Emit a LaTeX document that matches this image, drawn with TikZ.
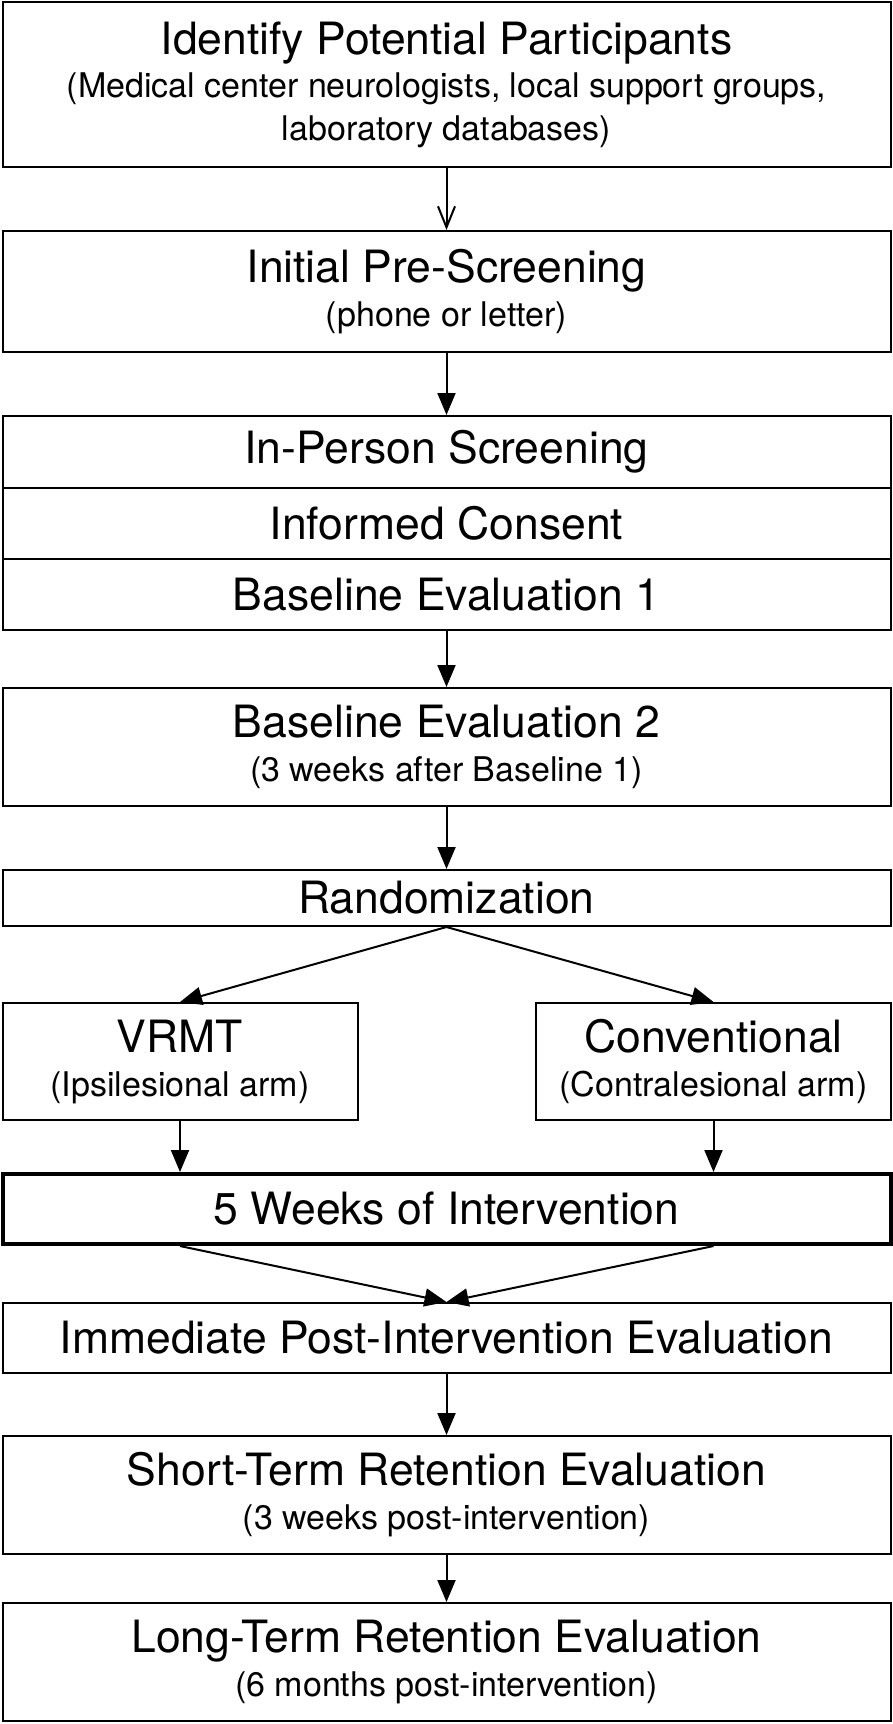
\documentclass[tikz,border=0pt]{standalone}
\usepackage{fontspec}
\setmainfont{TeX Gyre Heros}
\usepackage{tikz}
\usetikzlibrary{arrows.meta}
\newcommand{\subtxt}[1]{{\fontsize{34}{41}\selectfont #1}}
\tikzset{ flow_box/.style = {rectangle, draw, line width=2pt, align=center, inner sep=0pt, minimum width=888pt, font=\fontsize{44.5}{44}\selectfont} }
\tikzset{ arm_box/.style = {flow_box, minimum width=355pt} }
\tikzset{ every path/.style = {line width=2pt} }

\begin{document}
\begin{tikzpicture}[x=1pt,y=-1pt,>={Triangle[length=22pt,width=18pt]}]
            \useasboundingbox (0,0) rectangle (893,1724);
                    \node [style=flow_box, minimum height=165pt, font=\fontsize{44.5}{43}\selectfont] (ident) at (446.5, 84.5) {Identify Potential Participants\\ \subtxt{(Medical center neurologists, local support groups,}\\ \subtxt{laboratory databases)}};
                    \node [style=flow_box, minimum height=121pt] (prescreen) at (446.5, 291.5) {Initial Pre-Screening\\ \subtxt{(phone or letter)}};
                    \node [style=flow_box, minimum height=72pt] (inperson) at (446.5, 452) {In-Person Screening};
                    \node [style=flow_box, minimum height=71pt] (consent) at (446.5, 523.5) {Informed Consent};
                    \node [style=flow_box, minimum height=71pt] (base1) at (446.5, 594.5) {Baseline Evaluation 1};
                    \node [style=flow_box, minimum height=118pt] (base2) at (446.5, 747) {Baseline Evaluation 2\\ \subtxt{(3 weeks after Baseline 1)}};
                    \node [style=flow_box, minimum height=56pt] (random) at (446.5, 898) {Randomization};
                    \node [style=arm_box, minimum height=117pt] (vrmt) at (180, 1061.5) {VRMT\\ \subtxt{(Ipsilesional arm)}};
                    \node [style=arm_box, minimum height=117pt] (conv) at (713.5, 1061.5) {Conventional\\ \subtxt{(Contralesional arm)}};
                    \node [style=flow_box, minimum height=70pt, line width=4pt] (weeks) at (446.5, 1209) {5 Weeks of Intervention};
                    \node [style=flow_box, minimum height=70pt] (immediate) at (446.5, 1338) {Immediate Post-Intervention Evaluation};
                    \node [style=flow_box, minimum height=118pt] (short) at (446.5, 1495) {Short-Term Retention Evaluation\\ \subtxt{(3 weeks post-intervention)}};
                    \node [style=flow_box, minimum height=118pt] (long) at (446.5, 1662) {Long-Term Retention Evaluation\\ \subtxt{(6 months post-intervention)}};
                    \draw[-{Straight Barb[length=21pt,width=17pt]}] (ident) to (prescreen);
                    \draw[->] (prescreen) to (inperson);
                    \draw[->] (base1) to (base2);
                    \draw[->] (base2) to (random);
                    \draw[->] (random.south) to (vrmt.north);
                    \draw[->] (random.south) to (conv.north);
                    \draw[->] (vrmt.south) to (vrmt.south |- weeks.north);
                    \draw[->] (conv.south) to (conv.south |- weeks.north);
                    \draw[->] (weeks.south -| vrmt.south) to (immediate.north);
                    \draw[->] (weeks.south -| conv.south) to (immediate.north);
                    \draw[->] (immediate) to (short);
                    \draw[->] (short) to (long);
            \end{tikzpicture}
\end{document}
